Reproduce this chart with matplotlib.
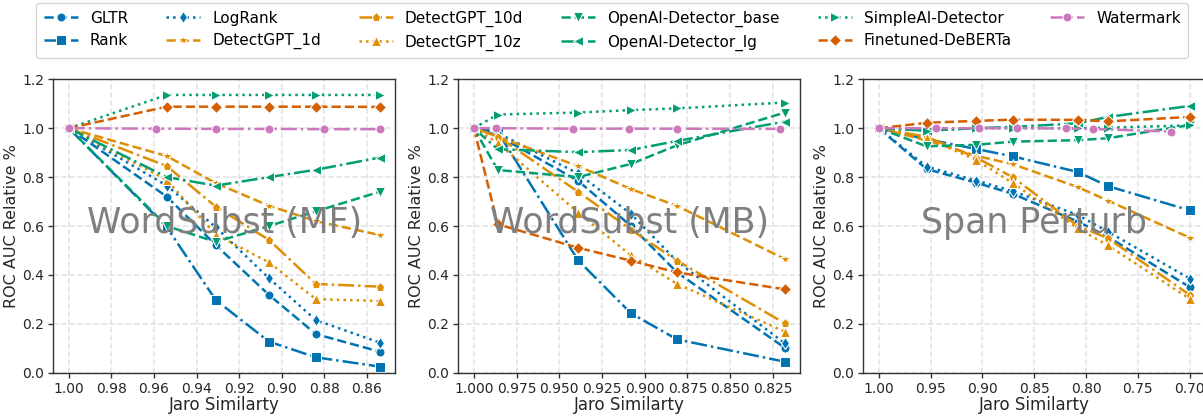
import matplotlib
matplotlib.use("Agg")
import matplotlib.pyplot as plt

# ---- data -------------------------------------------------------------
methods = ["GLTR", "Rank", "LogRank", "DetectGPT_1d", "DetectGPT_10d",
           "DetectGPT_10z", "OpenAI-Detector_base", "OpenAI-Detector_lg",
           "SimpleAI-Detector", "Finetuned-DeBERTa", "Watermark"]

panel_titles = ["WordSubst (MF)", "WordSubst (MB)", "Span Perturb"]

# WordSubst (MF)
mf_x = [1.0, 0.954, 0.931, 0.906, 0.884, 0.854]
mf_x_wm = [1.0, 0.959, 0.931, 0.906, 0.880, 0.854]
mf_gltr = [1.0, 0.720, 0.522, 0.318, 0.158, 0.086]
mf_rank = [1.0, 0.595, 0.297, 0.127, 0.063, 0.025]
mf_logrank = [1.0, 0.765, 0.595, 0.386, 0.215, 0.123]
mf_dgpt_1d = [1.0, 0.886, 0.775, 0.683, 0.620, 0.563]
mf_dgpt_10d = [1.0, 0.845, 0.679, 0.543, 0.363, 0.352]
mf_dgpt_10z = [1.0, 0.788, 0.565, 0.451, 0.301, 0.293]
mf_oai_base = [1.0, 0.600, 0.535, 0.600, 0.660, 0.740]
mf_oai_lg = [1.0, 0.800, 0.765, 0.800, 0.830, 0.880]
mf_simpleai = [1.0, 1.136, 1.136, 1.136, 1.136, 1.136]
mf_deberta = [1.0, 1.088, 1.088, 1.088, 1.088, 1.087]
mf_watermark = [1.0, 0.998, 0.997, 0.997, 0.996, 0.996]

# WordSubst (MB)
mb_x = [1.0, 0.986, 0.939, 0.908, 0.881, 0.818]
mb_x_wm = [1.0, 0.987, 0.942, 0.909, 0.881, 0.821]
mb_gltr = [1.0, 0.970, 0.785, 0.600, 0.410, 0.102]
mb_rank = [1.0, 0.985, 0.460, 0.243, 0.136, 0.045]
mb_logrank = [1.0, 0.980, 0.815, 0.649, 0.455, 0.120]
mb_dgpt_1d = [1.0, 0.965, 0.845, 0.751, 0.682, 0.465]
mb_dgpt_10d = [1.0, 0.966, 0.740, 0.585, 0.458, 0.202]
mb_dgpt_10z = [1.0, 0.940, 0.655, 0.480, 0.363, 0.168]
mb_oai_base = [1.0, 0.829, 0.800, 0.854, 0.930, 1.064]
mb_oai_lg = [1.0, 0.914, 0.902, 0.911, 0.948, 1.027]
mb_simpleai = [1.0, 1.056, 1.064, 1.074, 1.081, 1.105]
mb_deberta = [1.0, 0.607, 0.511, 0.458, 0.410, 0.341]
mb_watermark = [1.0, 1.000, 0.998, 0.998, 0.998, 0.997]

# Span Perturb
sp_x = [1.0, 0.954, 0.906, 0.871, 0.808, 0.779, 0.700]
sp_x_wm = [1.0, 0.945, 0.903, 0.867, 0.819, 0.793, 0.718]
sp_gltr = [1.0, 0.833, 0.777, 0.732, 0.618, 0.556, 0.350]
sp_rank = [1.0, 0.955, 0.915, 0.885, 0.821, 0.763, 0.664]
sp_logrank = [1.0, 0.843, 0.786, 0.743, 0.645, 0.577, 0.385]
sp_dgpt_1d = [1.0, 0.950, 0.887, 0.853, 0.759, 0.704, 0.552]
sp_dgpt_10d = [1.0, 0.965, 0.880, 0.800, 0.600, 0.550, 0.318]
sp_dgpt_10z = [1.0, 0.960, 0.870, 0.776, 0.590, 0.521, 0.302]
sp_oai_base = [1.0, 0.926, 0.932, 0.945, 0.951, 0.959, 1.013]
sp_oai_lg = [1.0, 0.990, 1.000, 1.005, 1.020, 1.046, 1.091]
sp_simpleai = [1.0, 0.990, 1.000, 1.000, 1.000, 1.002, 1.012]
sp_deberta = [1.0, 1.022, 1.030, 1.035, 1.034, 1.028, 1.046]
sp_watermark = [1.0, 1.000, 1.000, 1.000, 0.999, 0.997, 0.986]

panels = [
    (mf_x, mf_x_wm, [mf_gltr, mf_rank, mf_logrank, mf_dgpt_1d, mf_dgpt_10d,
                     mf_dgpt_10z, mf_oai_base, mf_oai_lg, mf_simpleai,
                     mf_deberta, mf_watermark], [1.00, 0.98, 0.96, 0.94, 0.92, 0.90, 0.88, 0.86], "{:.2f}"),
    (mb_x, mb_x_wm, [mb_gltr, mb_rank, mb_logrank, mb_dgpt_1d, mb_dgpt_10d,
                     mb_dgpt_10z, mb_oai_base, mb_oai_lg, mb_simpleai,
                     mb_deberta, mb_watermark], [1.000, 0.975, 0.950, 0.925, 0.900, 0.875, 0.850, 0.825], "{:.3f}"),
    (sp_x, sp_x_wm, [sp_gltr, sp_rank, sp_logrank, sp_dgpt_1d, sp_dgpt_10d,
                     sp_dgpt_10z, sp_oai_base, sp_oai_lg, sp_simpleai,
                     sp_deberta, sp_watermark], [1.00, 0.95, 0.90, 0.85, 0.80, 0.75, 0.70], "{:.2f}"),
]

# ---- styles -------------------------------------------------------------
BLUE, ORANGE, GREEN, VERMILION, PINK = "#0173b2", "#de8f05", "#029e73", "#d55e00", "#cc78bc"
colors = [BLUE, BLUE, BLUE, ORANGE, ORANGE, ORANGE, GREEN, GREEN, GREEN, VERMILION, PINK]
linestyles = ["--", "-.", ":", "--", "-.", ":", "--", "-.", ":", "--", "-."]
markers = ["o", "s", "d", "*", "p", "^", "v", "<", ">", "D", "o"]

plt.rcParams["font.family"] = ["DejaVu Sans"]
TEXT = "#262626"

fig = plt.figure(figsize=(12.03, 4.17), dpi=100)
W, H = 1203.0, 417.0
lefts = [53.3, 458.3, 863.3]
ax_w, ax_top, ax_bot = 342.0, 79.3, 372.7

handles = []
for i, (xs, xs_wm, series, ticks, fmt) in enumerate(panels):
    ax = fig.add_axes([lefts[i] / W, (H - ax_bot) / H, ax_w / W, (ax_bot - ax_top) / H])
    for j, ys in enumerate(series):
        x = xs_wm if methods[j] == "Watermark" else xs
        ln, = ax.plot(x, ys, color=colors[j], linestyle=linestyles[j], marker=markers[j],
                      lw=1.8, ms=6.5 if markers[j] != "*" else 7,
                      mec="white", mew=0.75, label=methods[j], zorder=2 + j * 0.01)
        if i == 0:
            handles.append(ln)
    ax.set_ylim(0, 1.2)
    ax.set_yticks([0.0, 0.2, 0.4, 0.6, 0.8, 1.0, 1.2])
    ax.set_yticklabels([f"{v:.1f}" for v in ax.get_yticks()])
    ax.set_xticks(ticks)
    ax.set_xticklabels([fmt.format(t) for t in ticks])
    ax.invert_xaxis()
    ax.grid(True, linestyle="--", color="#e2e2e2", lw=1.1)
    ax.set_axisbelow(True)
    for sp in ax.spines.values():
        sp.set_color("#333333")
        sp.set_linewidth(1.0)
    ax.tick_params(axis="both", labelsize=10, colors="#333333", labelcolor=TEXT,
                   length=3.5, width=1, pad=3)
    ax.set_xlabel("Jaro Similarty", fontsize=12, color=TEXT, labelpad=0)
    ax.set_ylabel("ROC AUC Relative %", fontsize=11.5, color=TEXT, labelpad=2)
    ax.text(0.5, 0.51, panel_titles[i], transform=ax.transAxes, ha="center", va="center",
            fontsize=25, color="#7f7f7f", zorder=5)

fig.legend(handles=handles, labels=methods, loc="upper center", ncol=6,
           bbox_to_anchor=(0.509, 0.993), fontsize=11, frameon=True,
           columnspacing=2.5, handlelength=2.2, handletextpad=0.8, borderpad=0.5,
           labelspacing=0.5, borderaxespad=0.0)

fig.savefig("out.png", dpi=100)
